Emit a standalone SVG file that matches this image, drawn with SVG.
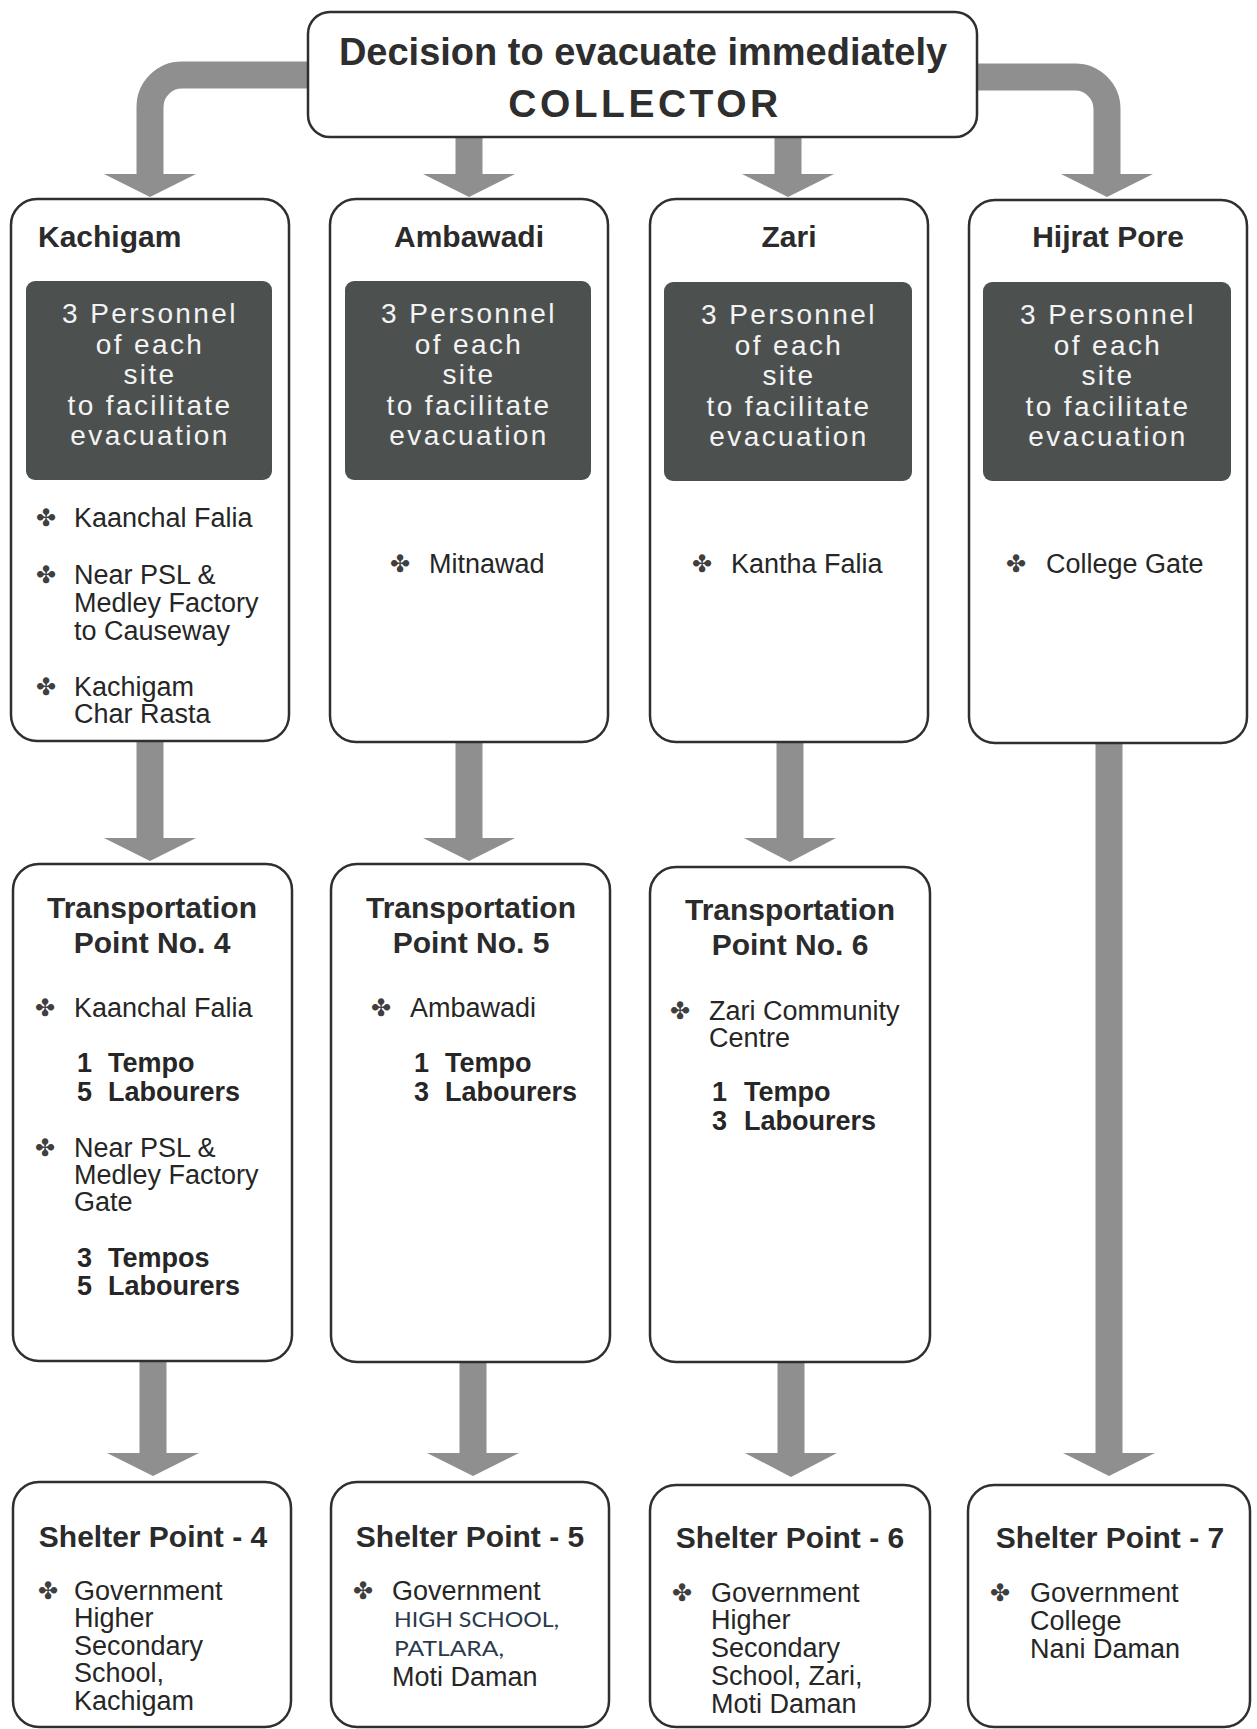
<svg xmlns="http://www.w3.org/2000/svg" width="1257" height="1729" viewBox="0 0 1257 1729">
<style>
.box{fill:#fff;stroke:#2f2f2f;stroke-width:2.5}
.dark{fill:#4c5150}
.dt{font-family:"Liberation Sans",Arial,sans-serif;font-size:28px;fill:#f3f3f3;text-anchor:middle;letter-spacing:2.4px}
.ttl{font-family:"Liberation Sans",Arial,sans-serif;font-size:30px;font-weight:bold;fill:#2b2b2b}
.c{text-anchor:middle}
.tx{font-family:"Liberation Sans",Arial,sans-serif;font-size:27px;fill:#262626}
.bx{font-family:"Liberation Sans",Arial,sans-serif;font-size:27px;font-weight:bold;fill:#262626}
.bl{font-family:"DejaVu Sans",sans-serif;font-size:24px;fill:#3f3f3f}
.alt{font-family:Lato,"Open Sans",sans-serif;font-size:21px;fill:#2b3a4c}
.top{font-family:"Liberation Sans",Arial,sans-serif;font-weight:bold;fill:#2e2e2e;text-anchor:middle}
.shaft{fill:none;stroke:#8f8f8f;stroke-width:27}
.head{fill:#8f8f8f}
</style>

<g id="connectors">
  <path class="shaft" d="M308,75 H182 A32,32 0 0 0 150,107 V175"/>
  <polygon class="head" points="104,174 196,174 150,197"/>
  <path class="shaft" d="M469,137 V175"/>
  <polygon class="head" points="423,174 515,174 469,197"/>
  <path class="shaft" d="M788,137 V175"/>
  <polygon class="head" points="742,174 834,174 788,197"/>
  <path class="shaft" d="M977,77 H1075 A32,32 0 0 1 1107,109 V175"/>
  <polygon class="head" points="1061,174 1153,174 1107,197"/>

  <path class="shaft" stroke-width="29" d="M150,741 V839"/>
  <polygon class="head" points="104,838 196,838 150,861"/>
  <path class="shaft" stroke-width="29" d="M469,742 V839"/>
  <polygon class="head" points="423,838 515,838 469,861"/>
  <path class="shaft" stroke-width="29" d="M790,742 V839"/>
  <polygon class="head" points="744,838 836,838 790,862"/>

  <path class="shaft" stroke-width="29" d="M153,1361 V1454"/>
  <polygon class="head" points="107,1453 199,1453 153,1476"/>
  <path class="shaft" stroke-width="29" d="M473,1362 V1454"/>
  <polygon class="head" points="427,1453 519,1453 473,1476"/>
  <path class="shaft" stroke-width="29" d="M791,1362 V1454"/>
  <polygon class="head" points="745,1453 837,1453 791,1477"/>

  <path class="shaft" stroke-width="29" d="M1109,743 V1454"/>
  <polygon class="head" points="1063,1453 1155,1453 1109,1476"/>
</g>

<g id="collector">
  <rect class="box" x="308" y="12" width="669" height="125" rx="22"/>
  <text class="top" x="643" y="65" font-size="38">Decision to evacuate immediately</text>
  <text class="top" x="645" y="117" font-size="39" letter-spacing="3.5">COLLECTOR</text>
</g>

<g id="kachigam">
  <rect class="box" x="11" y="199" width="278" height="542" rx="26"/>
  <text class="ttl" x="38" y="247">Kachigam</text>
  <rect class="dark" x="26" y="281" width="246" height="199" rx="9"/>
  <text class="dt" x="150" y="323">3 Personnel</text>
  <text class="dt" x="150" y="354">of each</text>
  <text class="dt" x="150" y="384">site</text>
  <text class="dt" x="150" y="415">to facilitate</text>
  <text class="dt" x="150" y="445">evacuation</text>
  <text class="bl" x="36" y="526">✤</text>
  <text class="tx" x="74" y="527">Kaanchal Falia</text>
  <text class="bl" x="36" y="583">✤</text>
  <text class="tx" x="74" y="584">Near PSL &amp;</text>
  <text class="tx" x="74" y="612">Medley Factory</text>
  <text class="tx" x="74" y="640">to Causeway</text>
  <text class="bl" x="36" y="695">✤</text>
  <text class="tx" x="74" y="696">Kachigam</text>
  <text class="tx" x="74" y="723">Char Rasta</text>
</g>

<g id="ambawadi">
  <rect class="box" x="330" y="199" width="278" height="543" rx="26"/>
  <text class="ttl c" x="469" y="247">Ambawadi</text>
  <rect class="dark" x="345" y="281" width="246" height="199" rx="9"/>
  <text class="dt" x="469" y="323">3 Personnel</text>
  <text class="dt" x="469" y="354">of each</text>
  <text class="dt" x="469" y="384">site</text>
  <text class="dt" x="469" y="415">to facilitate</text>
  <text class="dt" x="469" y="445">evacuation</text>
  <text class="bl" x="390" y="572">✤</text>
  <text class="tx" x="429" y="573">Mitnawad</text>
</g>

<g id="zari">
  <rect class="box" x="650" y="199" width="278" height="543" rx="26"/>
  <text class="ttl c" x="789" y="247">Zari</text>
  <rect class="dark" x="664" y="282" width="248" height="199" rx="9"/>
  <text class="dt" x="789" y="324">3 Personnel</text>
  <text class="dt" x="789" y="355">of each</text>
  <text class="dt" x="789" y="385">site</text>
  <text class="dt" x="789" y="416">to facilitate</text>
  <text class="dt" x="789" y="446">evacuation</text>
  <text class="bl" x="692" y="572">✤</text>
  <text class="tx" x="731" y="573">Kantha Falia</text>
</g>

<g id="hijrat-pore">
  <rect class="box" x="969" y="200" width="278" height="543" rx="26"/>
  <text class="ttl c" x="1108" y="247">Hijrat Pore</text>
  <rect class="dark" x="983" y="282" width="248" height="199" rx="9"/>
  <text class="dt" x="1108" y="324">3 Personnel</text>
  <text class="dt" x="1108" y="355">of each</text>
  <text class="dt" x="1108" y="385">site</text>
  <text class="dt" x="1108" y="416">to facilitate</text>
  <text class="dt" x="1108" y="446">evacuation</text>
  <text class="bl" x="1006" y="572">✤</text>
  <text class="tx" x="1046" y="573">College Gate</text>
</g>

<g id="transport-4">
  <rect class="box" x="13" y="864" width="279" height="497" rx="26"/>
  <text class="ttl c" x="152" y="918">Transportation</text>
  <text class="ttl c" x="152" y="953">Point No. 4</text>
  <text class="bl" x="35" y="1016">✤</text>
  <text class="tx" x="74" y="1017">Kaanchal Falia</text>
  <text class="bx" x="77" y="1072">1</text><text class="bx" x="108" y="1072">Tempo</text>
  <text class="bx" x="77" y="1101">5</text><text class="bx" x="108" y="1101">Labourers</text>
  <text class="bl" x="35" y="1156">✤</text>
  <text class="tx" x="74" y="1157">Near PSL &amp;</text>
  <text class="tx" x="74" y="1184">Medley Factory</text>
  <text class="tx" x="74" y="1211">Gate</text>
  <text class="bx" x="77" y="1267">3</text><text class="bx" x="108" y="1267">Tempos</text>
  <text class="bx" x="77" y="1295">5</text><text class="bx" x="108" y="1295">Labourers</text>
</g>

<g id="transport-5">
  <rect class="box" x="331" y="864" width="279" height="498" rx="26"/>
  <text class="ttl c" x="471" y="918">Transportation</text>
  <text class="ttl c" x="471" y="953">Point No. 5</text>
  <text class="bl" x="371" y="1016">✤</text>
  <text class="tx" x="410" y="1017">Ambawadi</text>
  <text class="bx" x="414" y="1072">1</text><text class="bx" x="445" y="1072">Tempo</text>
  <text class="bx" x="414" y="1101">3</text><text class="bx" x="445" y="1101">Labourers</text>
</g>

<g id="transport-6">
  <rect class="box" x="650" y="867" width="280" height="495" rx="26"/>
  <text class="ttl c" x="790" y="920">Transportation</text>
  <text class="ttl c" x="790" y="955">Point No. 6</text>
  <text class="bl" x="670" y="1019">✤</text>
  <text class="tx" x="709" y="1020">Zari Community</text>
  <text class="tx" x="709" y="1047">Centre</text>
  <text class="bx" x="712" y="1101">1</text><text class="bx" x="744" y="1101">Tempo</text>
  <text class="bx" x="712" y="1130">3</text><text class="bx" x="744" y="1130">Labourers</text>
</g>

<g id="shelter-4">
  <rect class="box" x="13" y="1482" width="278" height="245" rx="26"/>
  <text class="ttl c" x="153" y="1547">Shelter Point - 4</text>
  <text class="bl" x="38" y="1599">✤</text>
  <text class="tx" x="74" y="1600">Government</text>
  <text class="tx" x="74" y="1627">Higher</text>
  <text class="tx" x="74" y="1655">Secondary</text>
  <text class="tx" x="74" y="1682">School,</text>
  <text class="tx" x="74" y="1710">Kachigam</text>
</g>

<g id="shelter-5">
  <rect class="box" x="331" y="1482" width="278" height="245" rx="26"/>
  <text class="ttl c" x="470" y="1547">Shelter Point - 5</text>
  <text class="bl" x="353" y="1599">✤</text>
  <text class="tx" x="392" y="1600">Government</text>
  <text class="alt" x="394" y="1627" textLength="165" lengthAdjust="spacingAndGlyphs">HIGH SCHOOL,</text>
  <text class="alt" x="394" y="1656" textLength="110" lengthAdjust="spacingAndGlyphs">PATLARA,</text>
  <text class="tx" x="392" y="1686">Moti Daman</text>
</g>

<g id="shelter-6">
  <rect class="box" x="650" y="1485" width="280" height="242" rx="26"/>
  <text class="ttl c" x="790" y="1548">Shelter Point - 6</text>
  <text class="bl" x="672" y="1601">✤</text>
  <text class="tx" x="711" y="1602">Government</text>
  <text class="tx" x="711" y="1629">Higher</text>
  <text class="tx" x="711" y="1657">Secondary</text>
  <text class="tx" x="711" y="1685">School, Zari,</text>
  <text class="tx" x="711" y="1713">Moti Daman</text>
</g>

<g id="shelter-7">
  <rect class="box" x="968" y="1485" width="282" height="242" rx="26"/>
  <text class="ttl c" x="1110" y="1548">Shelter Point - 7</text>
  <text class="bl" x="990" y="1601">✤</text>
  <text class="tx" x="1030" y="1602">Government</text>
  <text class="tx" x="1030" y="1630">College</text>
  <text class="tx" x="1030" y="1658">Nani Daman</text>
</g>
</svg>
